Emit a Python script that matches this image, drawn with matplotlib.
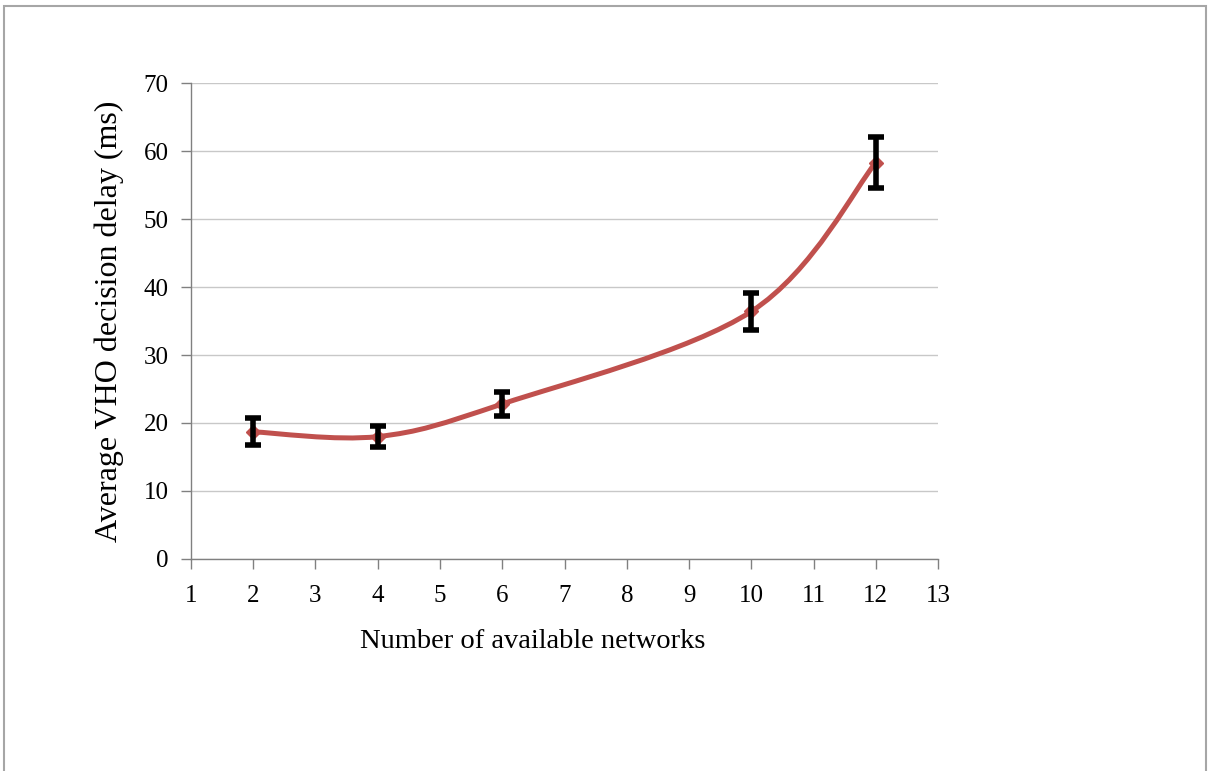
import numpy as np
import matplotlib.pyplot as plt
from matplotlib.path import Path
from matplotlib.patches import PathPatch, Rectangle

# data
networks = [2, 4, 6, 10, 12]
delay = [18.7, 18.0, 22.8, 36.4, 58.3]
delay_err = [2.0, 1.6, 1.7, 2.7, 3.8]

plt.rcParams['font.family'] = ['Liberation Serif', 'DejaVu Serif']

fig = plt.figure(figsize=(12.11, 7.71), dpi=100)
ax = fig.add_axes([0.1577, 0.2750, 0.6169, 0.6173])

# smooth line (Excel style) built as cubic Bezier segments from the points
pts = np.column_stack([networks, delay]).astype(float)
ext = np.vstack([pts[0], pts, pts[-1]])
verts = [tuple(pts[0])]
codes = [Path.MOVETO]
for i in range(1, len(ext) - 2):
    p0, p1, p2, p3 = ext[i - 1], ext[i], ext[i + 1], ext[i + 2]
    verts += [tuple(p1 + (p2 - p0) / 6), tuple(p2 - (p3 - p1) / 6), tuple(p2)]
    codes += [Path.CURVE4] * 3
ax.add_patch(PathPatch(Path(verts, codes), fill=False, edgecolor='#c0504d',
                       lw=3.6, capstyle='round', zorder=3))
ax.plot(networks, delay, 'D', color='#c0504d', ms=7, zorder=3)

eb = ax.errorbar(networks, delay, yerr=delay_err, fmt='none', ecolor='black',
                 elinewidth=4.0, capsize=6, capthick=4.0, zorder=4)
for c in eb[1]:
    c.set_solid_capstyle('round')

ax.set_xlim(1, 13)
ax.set_ylim(0, 70)
ax.set_xticks(range(1, 14))
ax.set_yticks(range(0, 71, 10))
ax.yaxis.grid(True, color='#c8c8c8', lw=1.0)
ax.set_axisbelow(True)
for s in ['top', 'right']:
    ax.spines[s].set_visible(False)
for s in ['left', 'bottom']:
    ax.spines[s].set_color('#808080')
    ax.spines[s].set_linewidth(1.0)
ax.tick_params(axis='both', labelsize=18, length=7, color='#808080', width=1.0)
ax.tick_params(axis='y', pad=9)
ax.tick_params(axis='x', pad=12)

ax.set_xlabel("Number of available networks", fontsize=20.5)
ax.xaxis.set_label_coords(0.458, -0.148)
ax.set_ylabel("Average VHO decision delay (ms)", fontsize=23, labelpad=14)

# outer gray frame
fig.add_artist(Rectangle((4 / 1211, -0.05), 1202 / 1211, 1.05 - 6 / 771,
                         transform=fig.transFigure, fill=False,
                         edgecolor='#a6a6a6', lw=1.5, clip_on=False))

fig.savefig("out.png", dpi=100)
